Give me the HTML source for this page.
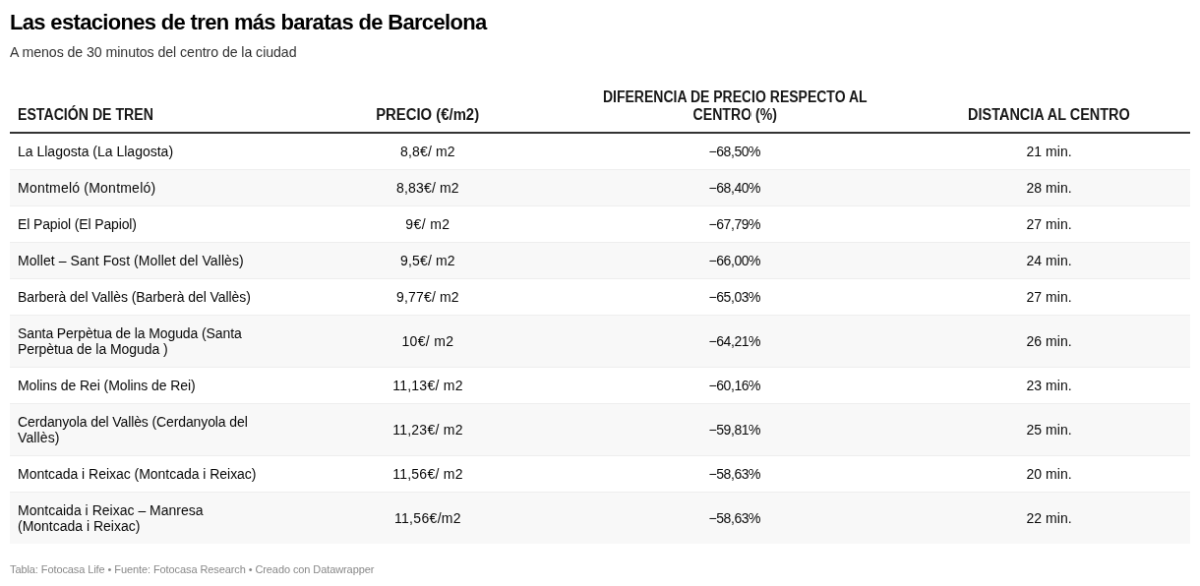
<!DOCTYPE html>
<html lang="es">
<head>
<meta charset="utf-8">
<title>Las estaciones de tren más baratas de Barcelona</title>
<style>
html,body{margin:0;padding:0;background:#fff;}
body{width:1200px;height:586px;overflow:hidden;position:relative;}
#pg{position:absolute;left:0;top:0;width:1220px;height:596px;overflow:hidden;background:#fff;transform-origin:0 0;transform:scale(0.983607,0.983221);will-change:transform;font-family:"Liberation Sans", sans-serif;color:#181818;}
.abs{position:absolute;white-space:nowrap;left:10px;}
#title{top:7px;font-weight:bold;font-size:22px;color:#000;line-height:32px;}
#sub{top:39px;font-size:14.2px;color:#333;line-height:28px;}
#foot{top:572px;font-size:11px;color:#888;line-height:14px;}
.th{position:absolute;bottom:470px;font-weight:bold;font-size:15.8px;line-height:18px;color:#181818;white-space:nowrap;}
.th.ctr{text-align:center;}
.th span,.cell span{display:block;}
.abs span{display:inline-block;}
#hline{position:absolute;left:10px;width:1200px;top:134px;height:2px;background:#333;}
.row{position:absolute;left:10px;width:1200px;box-sizing:border-box;border-bottom:1px solid #eee;}
.row.g{background:#f8f8f8;}
.row.last{border-bottom:none;}
.cell{position:absolute;top:0px;bottom:0px;display:flex;flex-direction:column;justify-content:center;font-size:14px;line-height:16px;white-space:nowrap;color:#080808;}
.cell.c0{padding-left:8px;}
.cell.cc{text-align:center;}
</style>
</head>
<body>
<div id="pg">
<div id="title" class="abs"><span style="letter-spacing:-0.67px">Las estaciones de tren más baratas de Barcelona</span></div>
<div id="sub" class="abs"><span style="letter-spacing:-0.078px">A menos de 30 minutos del centro de la ciudad</span></div>
<div class="th" style="left:18px"><span style="transform:scaleX(0.8946);transform-origin:0 50%">ESTACIÓN DE TREN</span></div>
<div class="th ctr" style="left:299.3px;width:271.25px"><span style="transform:scaleX(0.9413);transform-origin:50% 50%">PRECIO (€/m2)</span></div>
<div class="th ctr" style="left:570.55px;width:352.55px"><span style="transform:scaleX(0.8863);transform-origin:50% 50%">DIFERENCIA DE PRECIO RESPECTO AL</span><span style="transform:scaleX(0.8925);transform-origin:50% 50%">CENTRO (%)</span></div>
<div class="th ctr" style="left:923.1px;width:286.9px"><span style="transform:scaleX(0.9152);transform-origin:50% 50%">DISTANCIA AL CENTRO</span></div>
<div id="hline"></div>
<div class="row" style="top:136px;height:37px"><div class="cell c0" style="left:0;width:281.3px"><span style="letter-spacing:0.002px">La Llagosta (La Llagosta)</span></div><div class="cell cc" style="left:289.3px;width:271.25px"><span style="letter-spacing:0.16px">8,8€/ m2</span></div><div class="cell cc" style="left:560.55px;width:352.55px"><span style="letter-spacing:-0.453px">−68,50%</span></div><div class="cell cc" style="left:913.1px;width:286.9px"><span style="letter-spacing:0.058px">21 min.</span></div></div>
<div class="row g" style="top:173px;height:37px"><div class="cell c0" style="left:0;width:281.3px"><span style="letter-spacing:0.221px">Montmeló (Montmeló)</span></div><div class="cell cc" style="left:289.3px;width:271.25px"><span style="letter-spacing:0.151px">8,83€/ m2</span></div><div class="cell cc" style="left:560.55px;width:352.55px"><span style="letter-spacing:-0.453px">−68,40%</span></div><div class="cell cc" style="left:913.1px;width:286.9px"><span style="letter-spacing:0.058px">28 min.</span></div></div>
<div class="row" style="top:210px;height:37px"><div class="cell c0" style="left:0;width:281.3px"><span style="letter-spacing:-0.137px">El Papiol (El Papiol)</span></div><div class="cell cc" style="left:289.3px;width:271.25px"><span style="letter-spacing:0.388px">9€/ m2</span></div><div class="cell cc" style="left:560.55px;width:352.55px"><span style="letter-spacing:-0.453px">−67,79%</span></div><div class="cell cc" style="left:913.1px;width:286.9px"><span style="letter-spacing:0.058px">27 min.</span></div></div>
<div class="row g" style="top:247px;height:37px"><div class="cell c0" style="left:0;width:281.3px"><span style="letter-spacing:0.074px">Mollet – Sant Fost (Mollet del Vallès)</span></div><div class="cell cc" style="left:289.3px;width:271.25px"><span style="letter-spacing:0.16px">9,5€/ m2</span></div><div class="cell cc" style="left:560.55px;width:352.55px"><span style="letter-spacing:-0.453px">−66,00%</span></div><div class="cell cc" style="left:913.1px;width:286.9px"><span style="letter-spacing:0.058px">24 min.</span></div></div>
<div class="row" style="top:284px;height:37px"><div class="cell c0" style="left:0;width:281.3px"><span style="letter-spacing:-0.082px">Barberà del Vallès (Barberà del Vallès)</span></div><div class="cell cc" style="left:289.3px;width:271.25px"><span style="letter-spacing:0.151px">9,77€/ m2</span></div><div class="cell cc" style="left:560.55px;width:352.55px"><span style="letter-spacing:-0.453px">−65,03%</span></div><div class="cell cc" style="left:913.1px;width:286.9px"><span style="letter-spacing:0.058px">27 min.</span></div></div>
<div class="row g" style="top:321px;height:53px"><div class="cell c0" style="left:0;width:281.3px"><span style="letter-spacing:-0.105px">Santa Perpètua de la Moguda (Santa</span><span style="letter-spacing:-0.069px">Perpètua de la Moguda )</span></div><div class="cell cc" style="left:289.3px;width:271.25px"><span style="letter-spacing:0.344px">10€/ m2</span></div><div class="cell cc" style="left:560.55px;width:352.55px"><span style="letter-spacing:-0.453px">−64,21%</span></div><div class="cell cc" style="left:913.1px;width:286.9px"><span style="letter-spacing:0.058px">26 min.</span></div></div>
<div class="row" style="top:374px;height:37px"><div class="cell c0" style="left:0;width:281.3px"><span style="letter-spacing:-0.08px">Molins de Rei (Molins de Rei)</span></div><div class="cell cc" style="left:289.3px;width:271.25px"><span style="letter-spacing:0.248px">11,13€/ m2</span></div><div class="cell cc" style="left:560.55px;width:352.55px"><span style="letter-spacing:-0.453px">−60,16%</span></div><div class="cell cc" style="left:913.1px;width:286.9px"><span style="letter-spacing:0.058px">23 min.</span></div></div>
<div class="row g" style="top:411px;height:53px"><div class="cell c0" style="left:0;width:281.3px"><span style="letter-spacing:-0.115px">Cerdanyola del Vallès (Cerdanyola del</span><span style="letter-spacing:0.112px">Vallès)</span></div><div class="cell cc" style="left:289.3px;width:271.25px"><span style="letter-spacing:0.248px">11,23€/ m2</span></div><div class="cell cc" style="left:560.55px;width:352.55px"><span style="letter-spacing:-0.453px">−59,81%</span></div><div class="cell cc" style="left:913.1px;width:286.9px"><span style="letter-spacing:0.058px">25 min.</span></div></div>
<div class="row" style="top:464px;height:37px"><div class="cell c0" style="left:0;width:281.3px"><span style="letter-spacing:-0.029px">Montcada i Reixac (Montcada i Reixac)</span></div><div class="cell cc" style="left:289.3px;width:271.25px"><span style="letter-spacing:0.248px">11,56€/ m2</span></div><div class="cell cc" style="left:560.55px;width:352.55px"><span style="letter-spacing:-0.453px">−58,63%</span></div><div class="cell cc" style="left:913.1px;width:286.9px"><span style="letter-spacing:0.058px">20 min.</span></div></div>
<div class="row g last" style="top:501px;height:52px"><div class="cell c0" style="left:0;width:281.3px"><span style="letter-spacing:0.012px">Montcaida i Reixac – Manresa</span><span style="letter-spacing:-0.008px">(Montcada i Reixac)</span></div><div class="cell cc" style="left:289.3px;width:271.25px"><span style="letter-spacing:0.323px">11,56€/m2</span></div><div class="cell cc" style="left:560.55px;width:352.55px"><span style="letter-spacing:-0.453px">−58,63%</span></div><div class="cell cc" style="left:913.1px;width:286.9px"><span style="letter-spacing:0.058px">22 min.</span></div></div>
<div id="foot" class="abs"><span style="letter-spacing:-0.092px">Tabla: Fotocasa Life • Fuente: Fotocasa Research • Creado con Datawrapper</span></div>
</div>
</body>
</html>
